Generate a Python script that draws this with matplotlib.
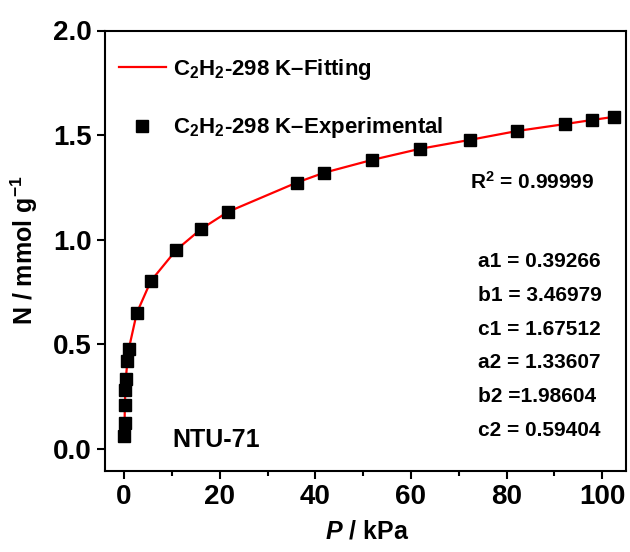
import numpy as np
import matplotlib
matplotlib.use('Agg')
import matplotlib.pyplot as plt
from matplotlib.ticker import MultipleLocator

plt.rcParams['font.family'] = ['Liberation Sans', 'DejaVu Sans']
plt.rcParams['font.weight'] = 'bold'
plt.rcParams['axes.labelweight'] = 'bold'
plt.rcParams['mathtext.fontset'] = 'custom'
plt.rcParams['mathtext.rm'] = 'Liberation Sans:bold'
plt.rcParams['mathtext.bf'] = 'Liberation Sans:bold'
plt.rcParams['mathtext.it'] = 'Liberation Sans:bold:italic'
plt.rcParams['mathtext.default'] = 'rm'

# C2H2 uptake, 298 K
pressure = [0.05, 0.1, 0.15, 0.27, 0.35, 0.7, 0.98, 2.65, 5.6, 10.9, 16.1, 21.7,
            36.1, 41.8, 51.8, 61.8, 72.3, 82.3, 92.3, 97.8, 102.4]
uptake = [0.062, 0.124, 0.210, 0.282, 0.335, 0.421, 0.478, 0.650, 0.803, 0.951, 1.051, 1.133,
          1.273, 1.320, 1.381, 1.434, 1.477, 1.520, 1.553, 1.572, 1.587]

params = ['a1 = 0.39266', 'b1 = 3.46979', 'c1 = 1.67512',
          'a2 = 1.33607', 'b2 =1.98604', 'c2 = 0.59404']

fig = plt.figure(figsize=(6.3, 5.52), dpi=100)
ax = fig.add_axes([105/630, 1-470.5/552, 521/630, 440/552])

ax.plot(pressure, uptake, color='red', lw=1.6, label=r'C$_2$H$_2$-298 K–Fitting', zorder=2)
ax.plot(pressure, uptake, ls='none', marker='s', ms=8.5, color='black',
        label=r'C$_2$H$_2$-298 K–Experimental', zorder=3)

ax.set_xlim(-4, 105)
ax.set_ylim(-0.103, 2.0)
ax.xaxis.set_major_locator(MultipleLocator(20))
ax.xaxis.set_minor_locator(MultipleLocator(10))
ax.yaxis.set_major_locator(MultipleLocator(0.5))
ax.tick_params(which='major', direction='out', length=6, width=1.5, labelsize=20, pad=3.5)
ax.tick_params(which='minor', direction='out', length=3.5, width=1.5)
ax.tick_params(top=False, right=False)
for s in ax.spines.values():
    s.set_linewidth(1.5)

ax.set_xlabel(r'$\mathit{P}$ / kPa', fontsize=18)
ax.set_ylabel(r'N / mmol g$^{-1}$', fontsize=18)
ax.xaxis.set_label_coords(0.503, -0.112)
ax.yaxis.set_label_coords(-0.125, 0.5)

leg = ax.legend(loc='upper left', bbox_to_anchor=(-0.008, 0.98), frameon=False, fontsize=16,
                handlelength=2.15, handletextpad=0.28, labelspacing=1.5, borderaxespad=0.4)

ax.text(0.70, 0.656, r'R$^2$ = 0.99999', transform=ax.transAxes, fontsize=15, va='center')
for i, p in enumerate(params):
    ax.text(0.716, 0.474 - i*0.0764, p, transform=ax.transAxes, fontsize=15, va='center')
ax.text(0.129, 0.069, 'NTU-71', transform=ax.transAxes, fontsize=18, va='center')

fig.savefig('out.png', dpi=100)
